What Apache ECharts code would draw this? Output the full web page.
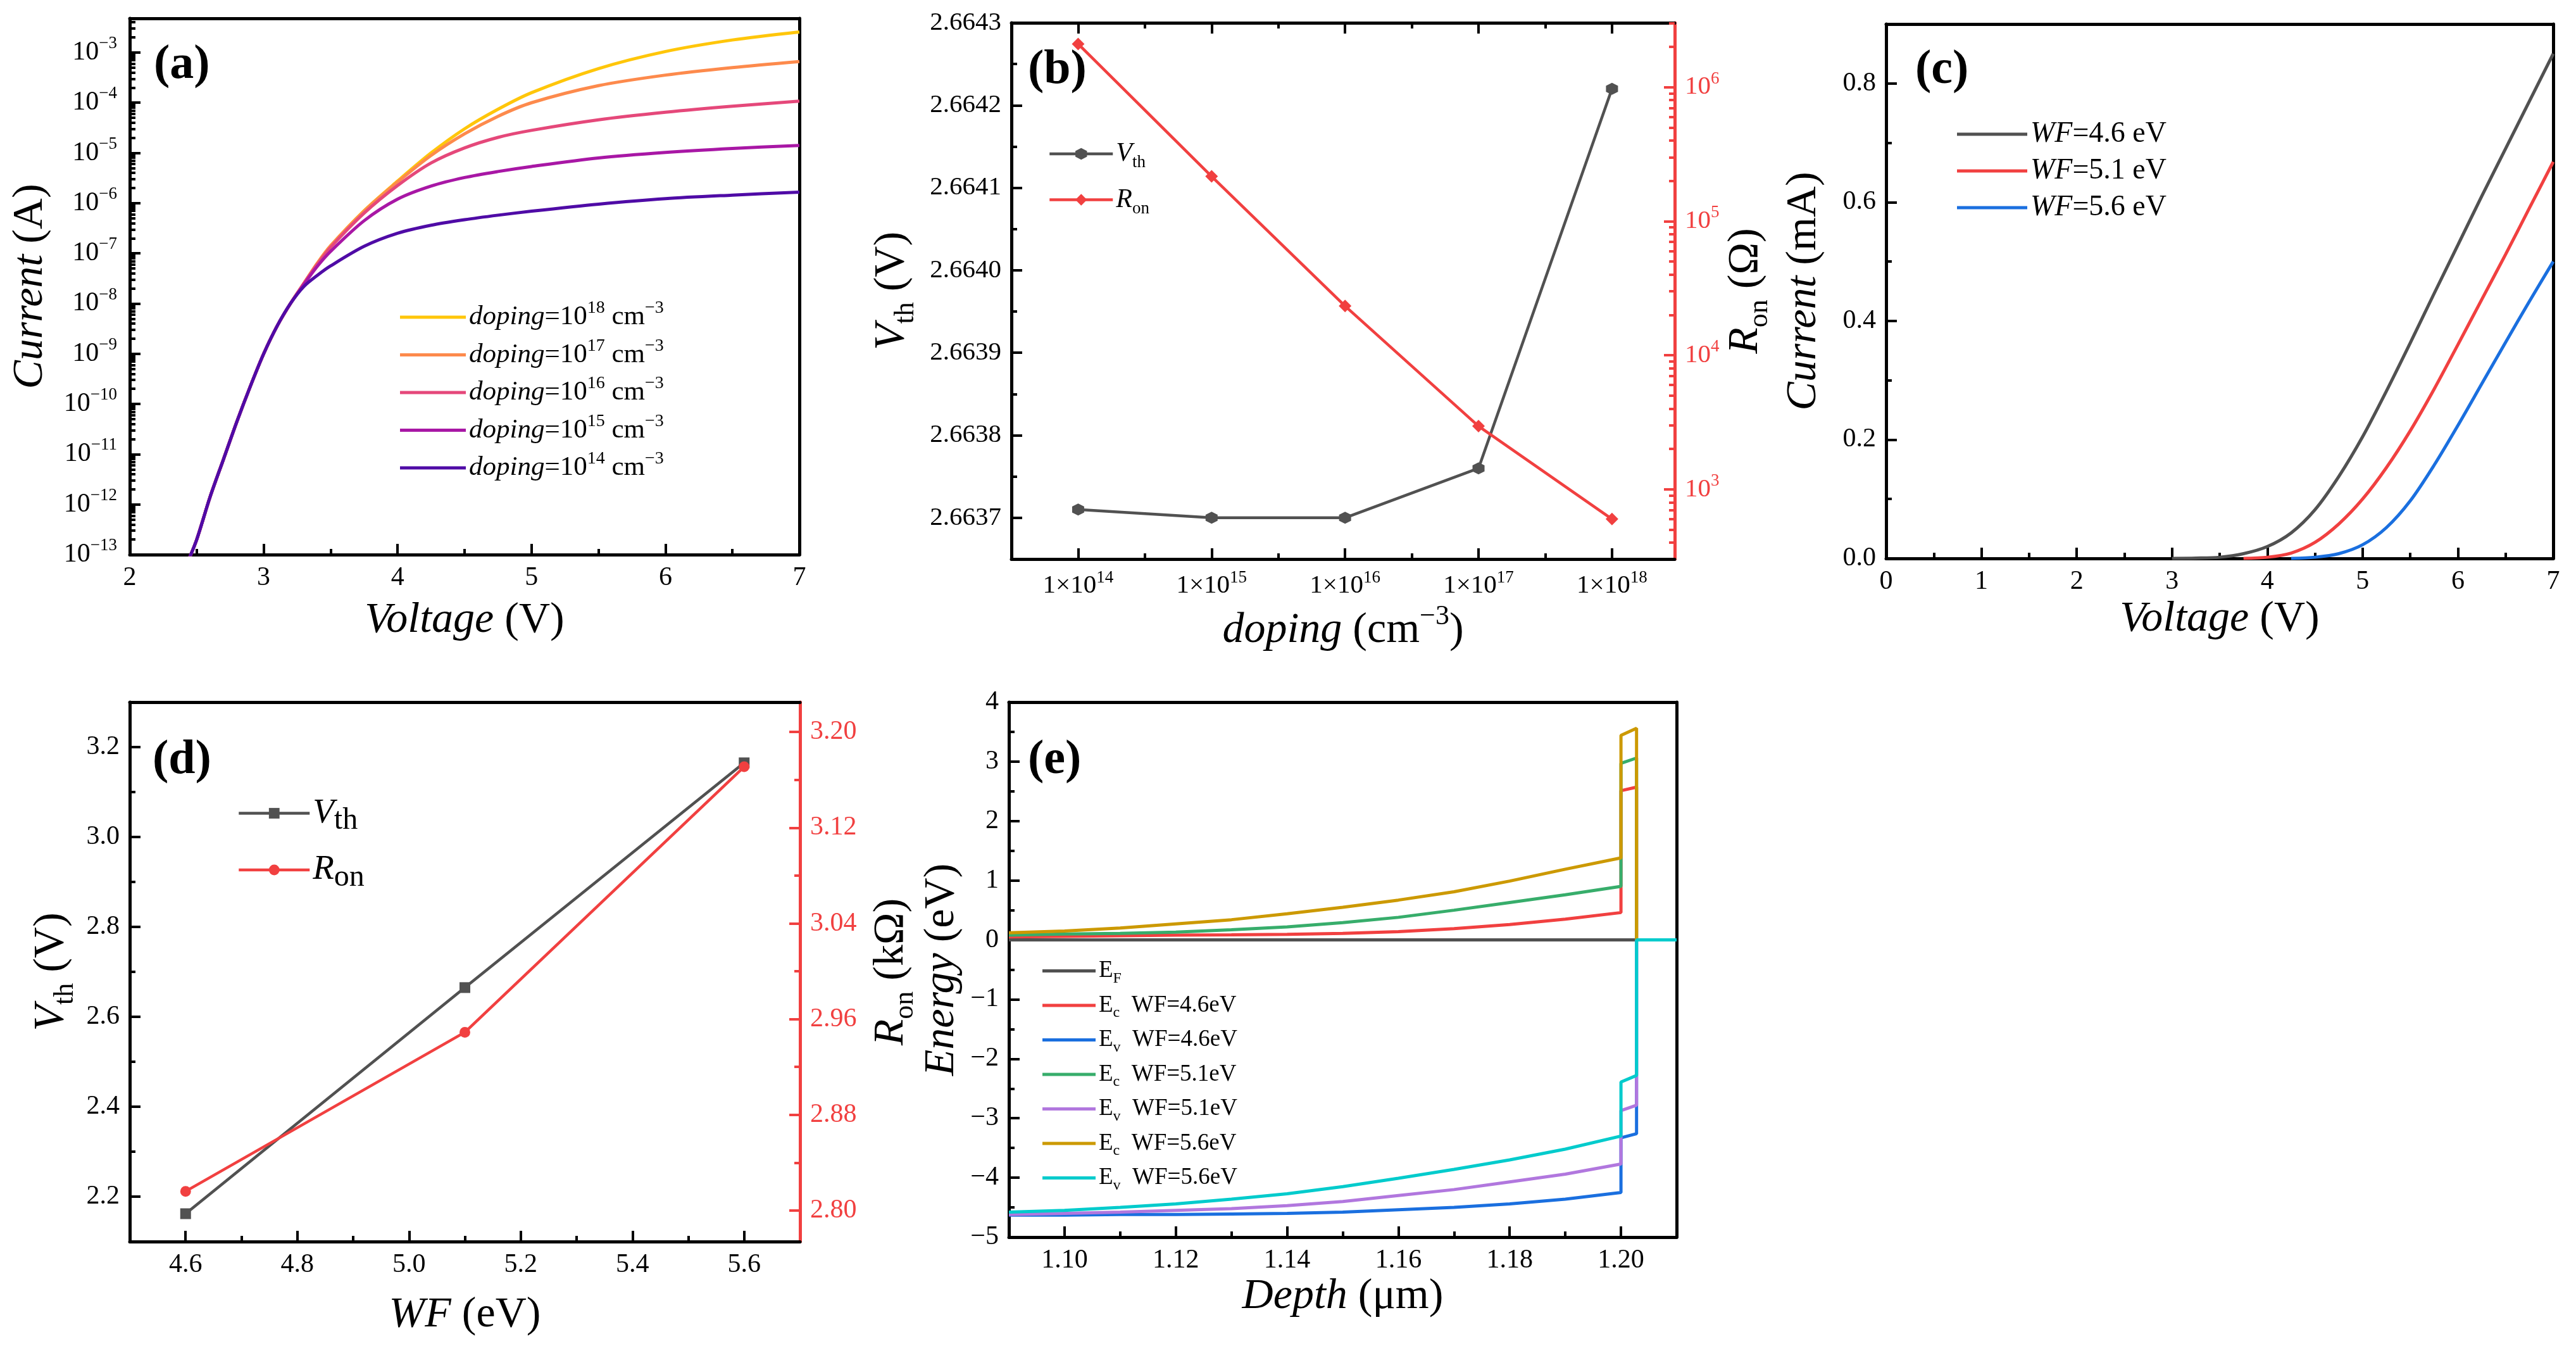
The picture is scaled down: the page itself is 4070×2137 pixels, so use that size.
<!DOCTYPE html>
<html>
<head>
<meta charset="utf-8">
<title>Device simulation panels (a)-(e)</title>
<script src="https://cdn.jsdelivr.net/npm/echarts@6.0.0/dist/echarts.min.js"></script>
<style>
    html, body { margin: 0; padding: 0; background: #ffffff; }
    #main { width: 4070px; height: 2137px; }
</style>
</head>
<body>
<div id="main"></div>
<script>
var SERIF = 'Liberation Serif';
var BLACK = '#000000';
var GRAY = '#515151';
var RED = '#f14040';

// ---------- (a) transfer curves, log current vs voltage ----------
var voltageA = [2.44, 2.5, 2.6, 2.7, 2.8, 2.9, 3.0, 3.1, 3.2, 3.3, 3.4, 3.5, 3.75, 4.0, 4.25, 4.5, 4.75, 5.0, 5.5, 6.0, 6.5, 7.0];
// log10 of current in A
var logI18 = [-13.1, -12.7, -11.85, -11.1, -10.35, -9.65, -9.0, -8.45, -8.0, -7.6, -7.2, -6.85, -6.15, -5.56, -5.0, -4.52, -4.13, -3.8, -3.32, -2.98, -2.75, -2.59];
var logI17 = [-13.1, -12.7, -11.85, -11.1, -10.35, -9.65, -9.0, -8.45, -8.0, -7.6, -7.2, -6.85, -6.16, -5.58, -5.05, -4.62, -4.27, -4.0, -3.66, -3.45, -3.3, -3.18];
var logI16 = [-13.1, -12.7, -11.85, -11.1, -10.35, -9.65, -9.0, -8.45, -8.0, -7.6, -7.22, -6.88, -6.2, -5.65, -5.2, -4.9, -4.69, -4.55, -4.34, -4.19, -4.07, -3.97];
var logI15 = [-13.1, -12.7, -11.85, -11.1, -10.35, -9.65, -9.0, -8.45, -8.0, -7.62, -7.26, -6.96, -6.35, -5.92, -5.66, -5.49, -5.37, -5.27, -5.1, -4.99, -4.91, -4.85];
var logI14 = [-13.1, -12.7, -11.85, -11.1, -10.35, -9.65, -9.0, -8.45, -8.0, -7.66, -7.44, -7.25, -6.86, -6.6, -6.44, -6.33, -6.24, -6.16, -6.02, -5.91, -5.84, -5.78];
var dopingPowA = [18, 17, 16, 15, 14];
var colorsA = ['#ffc60a', '#fd8a4c', '#e5487a', '#a817a5', '#4f0ba6'];
var xTicksA = [2, 3, 4, 5, 6, 7];
var xMinorA = [2.5, 3.5, 4.5, 5.5, 6.5];
var yPowA = [-13, -12, -11, -10, -9, -8, -7, -6, -5, -4, -3];

// ---------- (b) Vth and Ron vs doping ----------
var dopingPowB = [14, 15, 16, 17, 18];
var vthB = [2.66371, 2.66370, 2.66370, 2.66376, 2.66422];
var ronB = [2.1e6, 2.16e5, 2.33e4, 2.96e3, 6.0e2];   // ohm
var vthTicksB = [2.6637, 2.6638, 2.6639, 2.6640, 2.6641, 2.6642, 2.6643];
var vthMinorB = [2.66375, 2.66385, 2.66395, 2.66405, 2.66415, 2.66425];
var ronPowB = [3, 4, 5, 6];
var xMinorB = [14.5, 15.5, 16.5, 17.5];

// ---------- (c) linear output current for three work functions ----------
var voltageC = [3.0, 3.25, 3.5, 3.75, 4.0, 4.25, 4.5, 4.75, 5.0, 5.25, 5.5, 5.75, 6.0, 6.25, 6.5, 6.75, 7.0];
var iWF46 = [0, 0.0005, 0.002, 0.008, 0.02, 0.043, 0.082, 0.138, 0.205, 0.282, 0.363, 0.446, 0.528, 0.61, 0.69, 0.77, 0.85];
var iWF51 = [null, null, null, 0, 0.002, 0.009, 0.027, 0.058, 0.1, 0.153, 0.215, 0.285, 0.36, 0.436, 0.512, 0.59, 0.668];
var iWF56 = [null, null, null, null, null, 0, 0.002, 0.008, 0.023, 0.052, 0.097, 0.157, 0.224, 0.294, 0.364, 0.433, 0.5];
var wfNamesC = ['4.6', '5.1', '5.6'];
var colorsC = [GRAY, RED, '#1a6fdf'];
var xTicksC = [0, 1, 2, 3, 4, 5, 6, 7];
var xMinorC = [0.5, 1.5, 2.5, 3.5, 4.5, 5.5, 6.5];
var yTicksC = [0, 0.2, 0.4, 0.6, 0.8];
var yMinorC = [0.1, 0.3, 0.5, 0.7];

// ---------- (d) Vth and Ron vs WF ----------
var wfD = [4.6, 5.1, 5.6];
var vthD = [2.162, 2.665, 3.165];
var ronD = [2.816, 2.949, 3.171];   // kohm
var xTicksD = [4.6, 4.8, 5.0, 5.2, 5.4, 5.6];
var xMinorD = [4.7, 4.9, 5.1, 5.3, 5.5];
var vthTicksD = [2.2, 2.4, 2.6, 2.8, 3.0, 3.2];
var vthMinorD = [2.3, 2.5, 2.7, 2.9, 3.1];
var ronTicksD = [2.80, 2.88, 2.96, 3.04, 3.12, 3.20];
var ronMinorD = [2.84, 2.92, 3.00, 3.08, 3.16];

// ---------- (e) band diagram ----------
var depth = [1.09, 1.10, 1.11, 1.12, 1.13, 1.14, 1.15, 1.16, 1.17, 1.18, 1.19, 1.20, 1.20, 1.2028, 1.2028, 1.21];
var ecWF46 = [0.05, 0.06, 0.07, 0.08, 0.085, 0.095, 0.11, 0.14, 0.19, 0.26, 0.35, 0.46, 2.51, 2.57, 0, 0];
var evWF46 = [-4.63, -4.63, -4.62, -4.62, -4.61, -4.6, -4.58, -4.54, -4.5, -4.44, -4.36, -4.25, -3.33, -3.26, 0, 0];
var ecWF51 = [0.08, 0.1, 0.11, 0.13, 0.17, 0.22, 0.29, 0.38, 0.5, 0.63, 0.76, 0.9, 2.97, 3.06, 0, 0];
var evWF51 = [-4.62, -4.6, -4.58, -4.55, -4.52, -4.47, -4.4, -4.3, -4.2, -4.07, -3.94, -3.77, -2.87, -2.78, 0, 0];
var ecWF56 = [0.12, 0.15, 0.2, 0.27, 0.34, 0.44, 0.55, 0.67, 0.81, 0.99, 1.19, 1.38, 3.44, 3.56, 0, 0];
var evWF56 = [-4.58, -4.55, -4.5, -4.44, -4.36, -4.27, -4.15, -4.01, -3.86, -3.7, -3.52, -3.3, -2.39, -2.28, 0, 0];
var efDepth = [1.09, 1.21];
var efLevel = [0, 0];
var bandNamesE = ['EF', 'Ec WF=4.6eV', 'Ev WF=4.6eV', 'Ec WF=5.1eV', 'Ev WF=5.1eV', 'Ec WF=5.6eV', 'Ev WF=5.6eV'];
var colorsE = [GRAY, RED, '#1a6fdf', '#37ad6b', '#b177de', '#cc9900', '#00cbcc'];
var xTicksE = [1.10, 1.12, 1.14, 1.16, 1.18, 1.20];
var xMinorE = [1.11, 1.13, 1.15, 1.17, 1.19];
var yTicksE = [-5, -4, -3, -2, -1, 0, 1, 2, 3, 4];
var yMinorE = [-4.5, -3.5, -2.5, -1.5, -0.5, 0.5, 1.5, 2.5, 3.5];

// log minor ticks (2..9 x 10^n) between lo and hi, in exponent units
function logMinors(lo, hi) {
    var out = [];
    for (var n = Math.floor(lo); n < hi; n++) {
        for (var k = 2; k <= 9; k++) {
            var v = n + Math.log10(k);
            if (v > lo && v < hi) out.push(v);
        }
    }
    return out;
}

function pairs(xs, ys) {
    return xs.map(function (x, i) { return [x, ys[i]]; });
}

// rich text styles: r = roman, i = italic, sup / sub = raised / lowered small text
function rich(size, color, subScale) {
    var L = Math.round(size * 1.3);
    var s = Math.round(size * (subScale || 0.65));
    return {
        r: {fontFamily: SERIF, fontSize: size, color: color, lineHeight: L},
        i: {fontFamily: SERIF, fontSize: size, fontStyle: 'italic', color: color, lineHeight: L},
        sup: {fontFamily: SERIF, fontSize: s, color: color, lineHeight: Math.round(L - 0.6 * size), verticalAlign: 'top'},
        sub: {fontFamily: SERIF, fontSize: s, color: color, lineHeight: Math.round(L - 0.5 * size), verticalAlign: 'bottom'}
    };
}

var grids = [], xAxes = [], yAxes = [], series = [], legends = [];

function addGrid(rect) {
    grids.push({left: rect[0], top: rect[1], width: rect[2], height: rect[3], containLabel: false, outerBoundsMode: 'none'});
    return grids.length - 1;
}

function axis(o) {
    var color = o.color || BLACK;
    var nameColor = o.nameColor || BLACK;
    var fs = o.fontSize || 42;
    return {
        type: 'value',
        gridIndex: o.grid,
        position: o.pos,
        min: o.min,
        max: o.max,
        axisLine: {show: o.line !== false, onZero: false, lineStyle: {color: color, width: 5}},
        axisTick: {show: !!o.ticks, inside: true, length: o.tickLen || 17, customValues: o.ticks, lineStyle: {color: color, width: 4}},
        axisLabel: {show: !!o.fmt, customValues: o.ticks, formatter: o.fmt, margin: o.margin || 16,
            color: color, fontFamily: SERIF, fontSize: fs, rich: rich(fs, color)},
        splitLine: {show: false},
        axisPointer: {show: false},
        name: o.name || '',
        nameLocation: 'middle',
        nameGap: o.nameGap || 0,
        nameRotate: o.rotate || 0,
        nameTextStyle: {color: nameColor, fontFamily: SERIF, fontSize: 68, rich: rich(68, nameColor, o.subScale)}
    };
}
function addX(o) { xAxes.push(axis(o)); return xAxes.length - 1; }
function addY(o) { yAxes.push(axis(o)); return yAxes.length - 1; }

function plain(v) { return String(v); }
function fixed(n) { return function (v) { return v.toFixed(n); }; }

// ================= (a) =================
var rectA = [205, 29, 1058, 847];
var gA = addGrid(rectA), gA2 = addGrid(rectA);
var xA = addX({grid: gA, pos: 'bottom', min: 2, max: 7, ticks: xTicksA, fmt: plain,
    name: '{i|Voltage} {r|(V)}', nameGap: 60});
addX({grid: gA, pos: 'top', min: 2, max: 7});
var yA = addY({grid: gA, pos: 'left', min: -13, max: -2.32, ticks: yPowA, margin: 20,
    fmt: function (v) { return '{r|10}{sup|\u2212' + Math.round(-v) + '}'; },
    name: '{i|Current} {r|(A)}', nameGap: 113, rotate: 90});
addY({grid: gA, pos: 'right', min: -13, max: -2.32});
addX({grid: gA2, pos: 'bottom', min: 2, max: 7, line: false, ticks: xMinorA, tickLen: 9});
addY({grid: gA2, pos: 'left', min: -13, max: -2.32, line: false, ticks: logMinors(-13, -2.32), tickLen: 9});

var curvesA = [logI18, logI17, logI16, logI15, logI14];
var namesA = [];
curvesA.forEach(function (c, i) {
    var name = 'doping=1e' + dopingPowA[i];
    namesA.push(name);
    series.push({
        type: 'line', name: name, xAxisIndex: xA, yAxisIndex: yA,
        data: pairs(voltageA, c), symbol: 'none', smooth: 0.3,
        lineStyle: {width: 5, color: colorsA[i]}, itemStyle: {color: colorsA[i]}
    });
});
legends.push({
    orient: 'vertical', left: 627, top: 468, itemWidth: 104, itemHeight: 5, itemGap: 10, icon: 'rect',
    data: namesA, selectedMode: false,
    formatter: function (name) {
        return '{i|doping}{r|=10}{sup|' + name.split('e')[1] + '}{r| cm}{sup|\u22123}';
    },
    textStyle: {fontFamily: SERIF, fontSize: 43, color: BLACK, rich: rich(43, BLACK)}
});

// ================= (b) =================
var rectB = [1598, 36, 1048, 847];
var gB = addGrid(rectB), gB2 = addGrid(rectB);
var xB = addX({grid: gB, pos: 'bottom', min: 13.5, max: 18.47, ticks: dopingPowB, fontSize: 41,
    fmt: function (v) { return '{r|1\u00d710}{sup|' + Math.round(v) + '}'; },
    name: '{i|doping} {r|(cm}{sup|\u22123}{r|)}', nameGap: 69});
addX({grid: gB, pos: 'top', min: 13.5, max: 18.47, ticks: dopingPowB});
var yB = addY({grid: gB, pos: 'left', min: 2.66365, max: 2.6643, ticks: vthTicksB, fmt: fixed(4), fontSize: 41,
    name: '{i|V}{sub|th} {r|(V)}', nameGap: 145, rotate: 90});
var yB2 = addY({grid: gB, pos: 'right', min: 2.48, max: 6.48, ticks: ronPowB, color: RED, fontSize: 41,
    fmt: function (v) { return '{r|10}{sup|' + Math.round(v) + '}'; },
    name: '{i|R}{sub|on} {r|(\u03a9)}', nameGap: 68, rotate: 90});
addX({grid: gB2, pos: 'bottom', min: 13.5, max: 18.47, line: false, ticks: xMinorB, tickLen: 9});
addX({grid: gB2, pos: 'top', min: 13.5, max: 18.47, line: false, ticks: xMinorB, tickLen: 9});
addY({grid: gB2, pos: 'left', min: 2.66365, max: 2.6643, line: false, ticks: vthMinorB, tickLen: 9});
addY({grid: gB2, pos: 'right', min: 2.48, max: 6.48, line: false, ticks: logMinors(2.48, 6.48), tickLen: 9, color: RED});

series.push({
    type: 'line', name: 'Vth (b)', xAxisIndex: xB, yAxisIndex: yB,
    data: pairs(dopingPowB, vthB),
    symbol: 'path://M0,-10 L8.66,-5 L8.66,5 L0,10 L-8.66,5 L-8.66,-5 Z', symbolSize: 19,
    lineStyle: {width: 4.5, color: GRAY}, itemStyle: {color: GRAY}
});
series.push({
    type: 'line', name: 'Ron (b)', xAxisIndex: xB, yAxisIndex: yB2,
    data: pairs(dopingPowB, ronB.map(function (r) { return Math.log10(r); })),
    symbol: 'diamond', symbolSize: 20,
    lineStyle: {width: 4.5, color: RED}, itemStyle: {color: RED}
});
legends.push({
    orient: 'vertical', left: 1651, top: 217, itemWidth: 100, itemHeight: 23, itemGap: 24,
    data: ['Vth (b)', 'Ron (b)'], selectedMode: false, lineStyle: {width: 4.5},
    formatter: function (name) { return name.charAt(0) === 'V' ? '{i|V}{sub|th}' : '{i|R}{sub|on}'; },
    textStyle: {fontFamily: SERIF, fontSize: 42, color: BLACK, rich: rich(42, BLACK)}
});

// ================= (c) =================
var rectC = [2980, 38, 1054, 844];
var gC = addGrid(rectC), gC2 = addGrid(rectC);
var xC = addX({grid: gC, pos: 'bottom', min: 0, max: 7, ticks: xTicksC, fmt: plain,
    name: '{i|Voltage} {r|(V)}', nameGap: 52});
addX({grid: gC, pos: 'top', min: 0, max: 7});
var yC = addY({grid: gC, pos: 'left', min: 0, max: 0.9, ticks: yTicksC, fmt: fixed(1),
    name: '{i|Current} {r|(mA)}', nameGap: 86, rotate: 90});
addY({grid: gC, pos: 'right', min: 0, max: 0.9});
addX({grid: gC2, pos: 'bottom', min: 0, max: 7, line: false, ticks: xMinorC, tickLen: 9});
addY({grid: gC2, pos: 'left', min: 0, max: 0.9, line: false, ticks: yMinorC, tickLen: 9});

var curvesC = [iWF46, iWF51, iWF56];
var namesC = [];
curvesC.forEach(function (c, i) {
    var name = 'WF=' + wfNamesC[i] + ' eV';
    namesC.push(name);
    series.push({
        type: 'line', name: name, xAxisIndex: xC, yAxisIndex: yC,
        data: pairs(voltageC, c), symbol: 'none', smooth: 0.3,
        lineStyle: {width: 5, color: colorsC[i]}, itemStyle: {color: colorsC[i]}
    });
});
legends.push({
    orient: 'vertical', left: 3087, top: 184, itemWidth: 111, itemHeight: 5, itemGap: 12, icon: 'rect',
    data: namesC, selectedMode: false,
    formatter: function (name) { return '{i|WF}{r|' + name.slice(2) + '}'; },
    textStyle: {fontFamily: SERIF, fontSize: 46, color: BLACK, rich: rich(46, BLACK)}
});

// ================= (d) =================
var rectD = [205, 1109, 1059, 852];
var gD = addGrid(rectD), gD2 = addGrid(rectD);
var xD = addX({grid: gD, pos: 'bottom', min: 4.5, max: 5.7, ticks: xTicksD, fmt: fixed(1),
    name: '{i|WF} {r|(eV)}', nameGap: 72});
addX({grid: gD, pos: 'top', min: 4.5, max: 5.7});
var yD = addY({grid: gD, pos: 'left', min: 2.1, max: 3.3, ticks: vthTicksD, fmt: fixed(1),
    name: '{i|V}{sub|th} {r|(V)}', nameGap: 80, rotate: 90});
var yD2 = addY({grid: gD, pos: 'right', min: 2.774, max: 3.225, ticks: ronTicksD, fmt: fixed(2), color: RED,
    name: '{i|R}{sub|on} {r|(k\u03a9)}', nameGap: 100, rotate: 90});
addX({grid: gD2, pos: 'bottom', min: 4.5, max: 5.7, line: false, ticks: xMinorD, tickLen: 9});
addY({grid: gD2, pos: 'left', min: 2.1, max: 3.3, line: false, ticks: vthMinorD, tickLen: 9});
addY({grid: gD2, pos: 'right', min: 2.774, max: 3.225, line: false, ticks: ronMinorD, tickLen: 9, color: RED});

series.push({
    type: 'line', name: 'Vth (d)', xAxisIndex: xD, yAxisIndex: yD,
    data: pairs(wfD, vthD), symbol: 'rect', symbolSize: 17,
    lineStyle: {width: 4.5, color: GRAY}, itemStyle: {color: GRAY}
});
series.push({
    type: 'line', name: 'Ron (d)', xAxisIndex: xD, yAxisIndex: yD2,
    data: pairs(wfD, ronD), symbol: 'circle', symbolSize: 17,
    lineStyle: {width: 4.5, color: RED}, itemStyle: {color: RED}
});
legends.push({
    orient: 'vertical', left: 370, top: 1252, itemWidth: 112, itemHeight: 21, itemGap: 26,
    data: ['Vth (d)', 'Ron (d)'], selectedMode: false, lineStyle: {width: 4.5},
    formatter: function (name) { return name.charAt(0) === 'V' ? '{i|V}{sub|th}' : '{i|R}{sub|on}'; },
    textStyle: {fontFamily: SERIF, fontSize: 55, color: BLACK, rich: rich(55, BLACK, 0.88)}
});

// ================= (e) =================
var rectE = [1594, 1109, 1055, 845];
var gE = addGrid(rectE), gE2 = addGrid(rectE);
var xE = addX({grid: gE, pos: 'bottom', min: 1.09, max: 1.21, ticks: xTicksE, fmt: fixed(2),
    name: '{i|Depth} {r|(\u03bcm)}', nameGap: 50});
addX({grid: gE, pos: 'top', min: 1.09, max: 1.21});
var yE = addY({grid: gE, pos: 'left', min: -5, max: 4, ticks: yTicksE,
    fmt: function (v) { return v < 0 ? '\u2212' + (-v) : String(v); },
    name: '{i|Energy} {r|(eV)}', nameGap: 62, rotate: 90});
addY({grid: gE, pos: 'right', min: -5, max: 4});
addX({grid: gE2, pos: 'bottom', min: 1.09, max: 1.21, line: false, ticks: xMinorE, tickLen: 9});
addY({grid: gE2, pos: 'left', min: -5, max: 4, line: false, ticks: yMinorE, tickLen: 9});

var bandsE = [efLevel, ecWF46, evWF46, ecWF51, evWF51, ecWF56, evWF56];
bandsE.forEach(function (b, i) {
    series.push({
        type: 'line', name: bandNamesE[i], xAxisIndex: xE, yAxisIndex: yE,
        data: pairs(i === 0 ? efDepth : depth, b), symbol: 'none',
        lineStyle: {width: 5, color: colorsE[i]}, itemStyle: {color: colorsE[i]}
    });
});
legends.push({
    orient: 'vertical', left: 1642, top: 1510, itemWidth: 84, itemHeight: 5, itemGap: 12, icon: 'rect',
    data: bandNamesE, selectedMode: false,
    formatter: function (name) {
        var parts = name.split(' ');
        var head = '{r|E}{sub|' + name.charAt(1) + '}';
        return parts.length > 1 ? head + '{r|  ' + parts[1] + '}' : head;
    },
    textStyle: {fontFamily: SERIF, fontSize: 37, color: BLACK, rich: rich(37, BLACK)}
});

// panel tags
var tagFont = {fontFamily: SERIF, fontWeight: 'bold', fontSize: 76, fill: BLACK};
var graphics = [
    {type: 'text', left: 243, top: 65, style: Object.assign({text: '(a)'}, tagFont)},
    {type: 'text', left: 1624, top: 73, style: Object.assign({text: '(b)'}, tagFont)},
    {type: 'text', left: 3026, top: 73, style: Object.assign({text: '(c)'}, tagFont)},
    {type: 'text', left: 241, top: 1163, style: Object.assign({text: '(d)'}, tagFont)},
    {type: 'text', left: 1624, top: 1163, style: Object.assign({text: '(e)'}, tagFont)}
];

var chart = echarts.init(document.getElementById('main'), null, {renderer: 'canvas', width: 4070, height: 2137});
chart.setOption({
    backgroundColor: '#ffffff',
    animation: false,
    textStyle: {fontFamily: SERIF},
    grid: grids,
    xAxis: xAxes,
    yAxis: yAxes,
    legend: legends,
    series: series,
    graphic: graphics
});
</script>
</body>
</html>
